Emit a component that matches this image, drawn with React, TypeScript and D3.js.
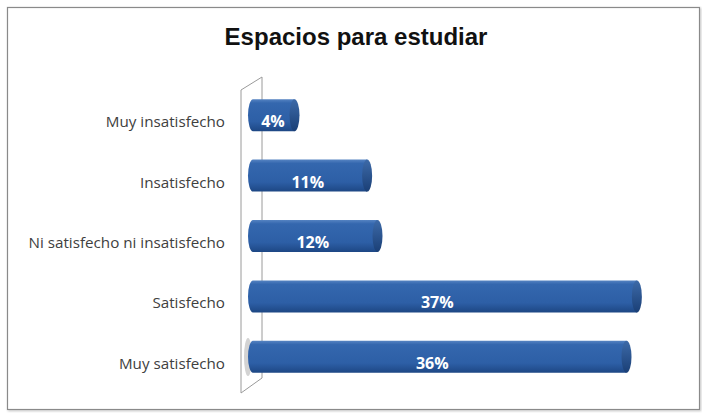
import React from "react";
import * as d3 from "d3";

const categories = [
  "Muy insatisfecho",
  "Insatisfecho",
  "Ni satisfecho ni insatisfecho",
  "Satisfecho",
  "Muy satisfecho",
];
const values = [0.04, 0.11, 0.12, 0.37, 0.36];
const title = "Espacios para estudiar";

const W = 702;
const H = 413;

export default function App() {
  const x = d3.scaleLinear().domain([0, 0.4]).range([253, 668]);
  const y = d3.scaleBand<string>().domain(categories).range([85, 387]).paddingInner(0.47).paddingOuter(0.235);
  const bh = y.bandwidth();
  const fmt = d3.format(".0%");
  const capRx = 5;

  return (
    <svg width={W} height={H} style={{ position: "absolute", left: 0, top: 0, background: "#fff" }}>
      <defs>
        <linearGradient id="barG" x1="0" y1="0" x2="0" y2="1">
          <stop offset="0" stopColor="#5583c2" />
          <stop offset="0.12" stopColor="#3467ae" />
          <stop offset="0.7" stopColor="#2d5fa6" />
          <stop offset="1" stopColor="#1d4784" />
        </linearGradient>
        <linearGradient id="capG" x1="0" y1="0" x2="0" y2="1">
          <stop offset="0" stopColor="#3d6aa8" />
          <stop offset="1" stopColor="#1a3f76" />
        </linearGradient>
        <filter id="sh" x="-5%" y="-5%" width="110%" height="110%">
          <feDropShadow dx="1" dy="1" stdDeviation="1" floodColor="#000" floodOpacity="0.25" />
        </filter>
      </defs>
      <rect x={7.5} y={7.5} width={692} height={402} fill="#fff" stroke="#8a8a8a" strokeWidth={1.2} filter="url(#sh)" />
      <text x={356} y={45} textAnchor="middle" fontFamily="'Liberation Sans', Arial, sans-serif" fontWeight="bold" fontSize={24} fill="#111">
        {title}
      </text>
      {/* 3D side wall */}
      <polygon points="241,90 262,77 262,378 241,393" fill="#fff" stroke="#9a9a9a" strokeWidth={1} />
      <ellipse cx={248} cy={357} rx={4} ry={19} fill="#c8c8c8" opacity={0.8} />
      {categories.map((c, i) => {
        const y0 = y(c)!;
        const x0 = x(0);
        const x1 = x(values[i]);
        const cy = y0 + bh / 2;
        return (
          <g key={c}>
            <text x={225} y={cy + 12} textAnchor="end" fontFamily="'Open Sans', sans-serif" fontSize={15.2} fill="#404040">
              {c}
            </text>
            <path
              d={`M${x0},${y0} L${x1},${y0} L${x1},${y0 + bh} L${x0},${y0 + bh} A${capRx},${bh / 2} 0 0 1 ${x0},${y0} Z`}
              fill="url(#barG)"
            />
            <ellipse cx={x1} cy={cy} rx={capRx} ry={bh / 2} fill="url(#capG)" />
            <text
              x={x0 + (x1 - x0) * 0.48}
              y={cy + 12}
              textAnchor="middle"
              fontFamily="'Open Sans', sans-serif"
              fontWeight="bold"
              fontSize={16}
              fill="#fff"
            >
              {fmt(values[i])}
            </text>
          </g>
        );
      })}
    </svg>
  );
}
